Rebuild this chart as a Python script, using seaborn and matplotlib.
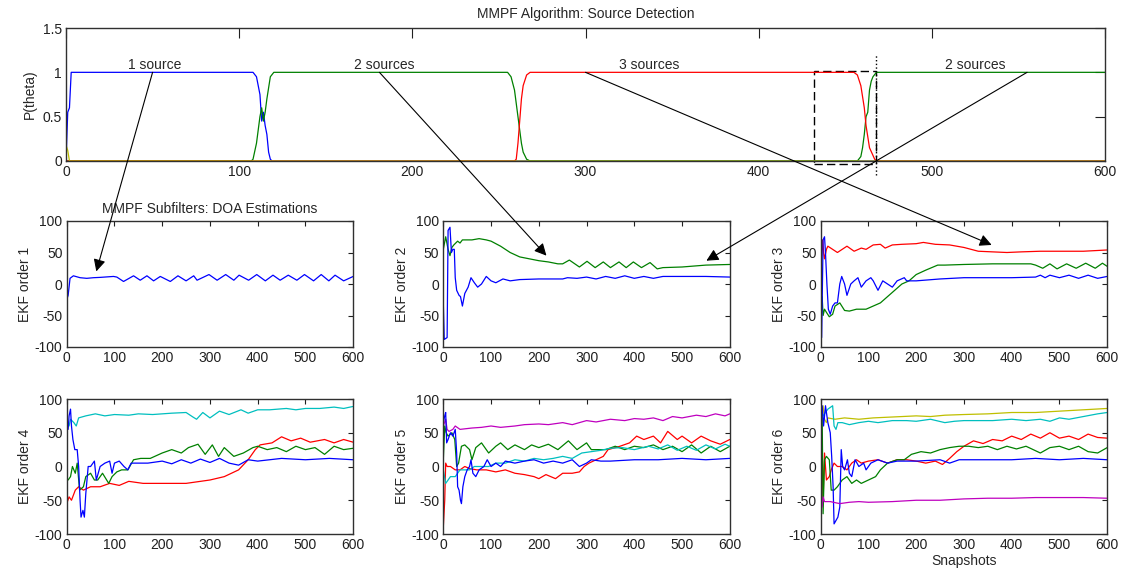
import numpy as np
import pandas as pd
import seaborn as sns
import matplotlib
matplotlib.use("Agg")
import matplotlib.pyplot as plt
from matplotlib.patches import ConnectionPatch, Rectangle

# ---- data ----
# top panel: posterior probability of each model
p_one_x = [0, 1, 2, 3, 4, 108, 110, 112, 113, 114, 115, 116, 117, 118, 119, 600]
p_one_y = [0, 0.55, 0.6, 1, 1, 1, 0.95, 0.75, 0.45, 0.55, 0.4, 0.3, 0.1, 0.02, 0, 0]
p_two_x = [0, 107, 108, 110, 111, 112, 113, 114, 115, 116, 118, 120, 255, 257, 259, 261,
           262, 263, 264, 266, 268, 457, 459, 460, 461, 462, 463, 464, 465, 466, 468, 600]
p_two_y = [0, 0, 0.02, 0.2, 0.35, 0.5, 0.6, 0.45, 0.55, 0.7, 0.95, 1, 1, 0.95, 0.8, 0.5,
           0.35, 0.2, 0.1, 0.02, 0, 0, 0.05, 0.15, 0.3, 0.5, 0.55, 0.8, 0.9, 0.95, 1, 1]
p_three_x = [0, 259, 260, 261, 262, 263, 264, 266, 268, 455, 457, 459, 461, 462, 464, 467, 468, 600]
p_three_y = [0, 0, 0.02, 0.2, 0.45, 0.7, 0.85, 0.97, 1, 1, 0.97, 0.85, 0.6, 0.4, 0.15, 0.02, 0, 0]
p_zero_x = [0, 1, 2, 600]
p_zero_y = [0.18, 0.12, 0, 0]

# EKF order 1
e1_blue_x = [0, 3, 7, 14, 28, 42, 56, 70, 98, 105, 119, 140, 154, 168, 182, 196, 217, 233,
             250, 266, 273, 298, 315, 333, 350, 361, 381, 398, 416, 432, 447, 464, 482, 498,
             517, 533, 549, 562, 580, 600]
e1_blue_y = [-25, -18, 9, 13, 10, 9, 10, 10.5, 12, 11, 4, 13, 6, 13, 5, 12, 4, 13, 5, 13, 6,
             15, 6, 15, 6, 14, 6, 15, 5, 14, 6, 14, 6, 15, 5, 15, 5, 14, 5, 12]

# EKF order 2
e2_blue_x = [0, 2, 8, 10, 14, 17, 20, 23, 25, 28, 33, 36, 40, 45, 52, 58, 65, 72, 80, 90, 100,
             110, 125, 140, 160, 200, 250, 260, 280, 300, 320, 340, 360, 380, 400, 420, 440,
             460, 500, 550, 600]
e2_blue_y = [-30, -88, -85, 85, 90, 50, 55, 55, 10, -10, -18, -20, -35, -15, -5, 10, 2, -5, 0,
             12, 5, 2, 8, 5, 7, 8, 8, 10, 9, 11, 8, 12, 9, 13, 9, 12, 9, 12, 12, 12, 11]
e2_green_x = [0, 5, 10, 14, 18, 22, 30, 35, 40, 60, 75, 90, 100, 120, 140, 160, 180, 200, 220,
              240, 250, 264, 285, 301, 318, 335, 350, 368, 383, 398, 415, 433, 448, 460, 500,
              550, 600]
e2_green_y = [55, 75, 55, 45, 58, 62, 68, 65, 70, 70, 72, 70, 68, 60, 50, 43, 40, 37, 35, 32,
              32, 38, 27, 36, 26, 35, 26, 35, 26, 35, 26, 34, 24, 26, 27, 30, 31]

# EKF order 3
e3_red_x = [0, 2, 4, 6, 8, 12, 15, 25, 35, 45, 55, 70, 85, 95, 110, 125, 135, 150, 170, 200,
            215, 240, 270, 300, 330, 360, 390, 420, 460, 500, 550, 600]
e3_red_y = [60, 45, 70, 50, 40, 55, 60, 55, 50, 55, 60, 52, 57, 55, 62, 63, 57, 62, 63, 64,
            66, 63, 62, 58, 52, 51, 50, 51, 52, 52, 52, 54]
e3_green_x = [0, 3, 5, 8, 12, 18, 25, 30, 40, 50, 60, 75, 95, 110, 125, 140, 155, 170, 185,
              200, 220, 245, 260, 300, 360, 440, 450, 465, 480, 495, 515, 535, 555, 575, 590, 600]
e3_green_y = [-25, -20, -50, -40, -45, -52, -48, -35, -30, -42, -43, -40, -40, -35, -30, -20,
              -10, 0, 5, 15, 22, 30, 30, 31, 32, 32, 30, 25, 32, 24, 32, 25, 33, 25, 33, 28]
e3_blue_x = [0, 2, 5, 8, 10, 13, 16, 20, 25, 30, 35, 40, 44, 50, 55, 63, 70, 78, 85, 95, 105,
             110, 120, 130, 140, 150, 160, 175, 180, 200, 250, 300, 400, 450, 460, 470, 480,
             500, 520, 540, 560, 580, 600]
e3_blue_y = [40, -85, 70, 75, 50, 0, -40, -48, -35, -30, -30, 0, 12, 0, -18, 0, 5, 10, -5, 5,
             10, 5, -10, 5, 0, -5, 5, 10, 5, 5, 8, 10, 10, 11, 14, 10, 14, 10, 14, 9, 14, 9, 12]

# EKF order 4
e4_cyan_x = [0, 5, 8, 15, 20, 25, 40, 60, 80, 100, 130, 150, 180, 220, 250, 265, 272, 285,
             300, 320, 340, 365, 380, 400, 425, 460, 480, 500, 530, 560, 580, 600]
e4_cyan_y = [70, 60, 70, 65, 60, 72, 75, 78, 75, 77, 76, 78, 77, 79, 80, 73, 70, 80, 72, 82,
             77, 84, 79, 84, 84, 86, 84, 86, 86, 88, 86, 89]
e4_blue_x = [0, 3, 5, 8, 10, 13, 17, 22, 25, 28, 30, 34, 37, 40, 45, 50, 55, 58, 62, 70, 80,
             90, 95, 100, 110, 120, 128, 135, 150, 170, 200, 220, 240, 260, 280, 300, 320,
             340, 360, 380, 400, 450, 500, 550, 600]
e4_blue_y = [65, 55, 75, 85, 60, 40, 25, 25, 0, -50, -75, -65, -75, -40, 0, 0, 5, 8, -20, 0,
             5, 8, -10, 5, 8, 0, -5, 5, 5, 5, 8, 4, 10, 5, 11, 6, 12, 5, 2, 10, 8, 12, 10, 12, 10]
e4_green_x = [0, 1, 3, 8, 12, 18, 22, 27, 35, 40, 50, 58, 65, 75, 88, 95, 105, 115, 128, 140,
              155, 175, 200, 220, 240, 255, 275, 290, 305, 318, 330, 350, 370, 390, 400, 420,
              440, 460, 480, 500, 520, 540, 560, 580, 600]
e4_green_y = [20, -20, -20, -15, 0, -10, 5, -35, -30, -15, -10, -20, -20, -10, -25, -15, -8,
              -5, -5, 10, 12, 12, 20, 25, 20, 28, 33, 18, 32, 15, 28, 15, 20, 28, 30, 25, 28,
              22, 30, 25, 28, 18, 30, 25, 27]
e4_red_x = [0, 5, 10, 18, 25, 35, 50, 70, 90, 110, 130, 160, 200, 250, 280, 300, 330, 345,
            360, 380, 395, 405, 430, 450, 470, 490, 510, 540, 560, 580, 600]
e4_red_y = [-55, -45, -50, -35, -30, -35, -30, -30, -25, -28, -22, -25, -25, -25, -22, -20,
            -15, -10, -5, 10, 25, 32, 35, 44, 38, 42, 36, 40, 35, 40, 36]

# EKF order 5
e5_magenta_x = [0, 5, 8, 12, 20, 25, 35, 60, 80, 100, 120, 150, 170, 200, 220, 250, 270, 300,
                320, 350, 380, 400, 420, 440, 460, 480, 500, 530, 550, 570, 590, 600]
e5_magenta_y = [60, 70, 55, 52, 55, 60, 55, 57, 58, 60, 58, 60, 62, 63, 62, 65, 62, 68, 66,
                70, 68, 71, 70, 72, 68, 74, 72, 76, 74, 78, 75, 78]
e5_red_x = [0, 3, 5, 8, 15, 25, 35, 45, 55, 70, 90, 110, 130, 150, 170, 190, 200, 215, 235,
            250, 270, 285, 295, 305, 320, 335, 345, 370, 390, 405, 420, 440, 455, 470, 490,
            500, 520, 540, 560, 580, 600]
e5_red_y = [-90, -50, 5, 0, 0, -5, -5, 0, -3, -5, -5, -8, -5, -10, -12, -15, -18, -12, -18,
            -10, -10, -8, 0, 5, 10, 15, 25, 30, 35, 45, 40, 45, 35, 52, 40, 45, 35, 45, 38, 33, 40]
e5_green_x = [0, 3, 6, 10, 18, 24, 28, 32, 38, 45, 55, 60, 68, 80, 95, 110, 120, 135, 150,
              170, 185, 200, 220, 240, 262, 280, 300, 310, 340, 360, 380, 400, 420, 440, 460,
              480, 500, 520, 540, 560, 580, 600]
e5_green_y = [10, 60, 50, 45, 50, 40, 0, 5, 30, 32, 25, 10, 28, 35, 20, 30, 35, 25, 32, 25,
              32, 28, 33, 25, 38, 25, 35, 25, 25, 30, 25, 30, 28, 32, 25, 30, 22, 32, 20, 30, 22, 30]
e5_cyan_x = [0, 5, 10, 15, 25, 35, 45, 55, 65, 80, 95, 110, 130, 150, 170, 190, 210, 230,
             250, 270, 290, 310, 330, 350, 375, 400, 430, 450, 470, 490, 510, 530, 550, 570,
             590, 600]
e5_cyan_y = [-5, -25, -20, -15, -15, -5, -5, -5, 0, 0, 0, 5, 5, 10, 8, 12, 10, 12, 15, 12, 20,
             22, 24, 27, 28, 25, 30, 26, 32, 24, 30, 24, 32, 26, 33, 30]
e5_blue_x = [0, 3, 5, 7, 10, 15, 20, 25, 28, 30, 33, 36, 38, 41, 45, 50, 55, 58, 62, 68, 75,
             85, 92, 100, 110, 120, 130, 150, 170, 190, 210, 230, 250, 270, 285, 300, 310,
             330, 350, 400, 450, 500, 550, 600]
e5_blue_y = [65, 75, 80, 35, 40, 50, 45, 55, 20, -30, -35, -50, -55, -30, -15, -5, 0, 10, -10,
             -15, -5, 0, 10, 0, 5, 0, 8, 5, 8, 10, 5, 8, 5, 10, 0, 5, 10, 8, 8, 10, 10, 12, 10, 12]

# EKF order 6
e6_yellow_x = [0, 5, 8, 12, 15, 30, 50, 80, 110, 140, 170, 200, 230, 260, 300, 350, 400, 450,
               500, 550, 600]
e6_yellow_y = [80, 90, 70, 65, 72, 70, 72, 70, 72, 73, 74, 75, 74, 76, 77, 78, 80, 80, 82, 84, 86]
e6_cyan_x = [0, 5, 10, 15, 25, 28, 32, 36, 45, 60, 80, 100, 120, 150, 180, 200, 230, 260,
             280, 300, 330, 360, 400, 430, 460, 480, 500, 520, 550, 580, 600]
e6_cyan_y = [85, 75, 80, 85, 90, 60, 55, 65, 65, 62, 65, 67, 65, 68, 68, 67, 70, 65, 67, 68,
             68, 68, 70, 68, 70, 67, 72, 70, 74, 78, 80]
e6_red_x = [0, 3, 5, 8, 12, 18, 22, 28, 35, 45, 55, 65, 75, 85, 100, 120, 140, 160, 180, 200,
            220, 240, 255, 270, 285, 300, 320, 340, 360, 380, 400, 420, 440, 460, 480, 500,
            520, 540, 560, 580, 600]
e6_red_y = [-55, 30, -50, 20, -20, -15, -5, 5, 0, 0, -5, 5, 10, 5, 8, 10, 5, 10, 10, 8, 5, 8,
            3, 12, 22, 30, 38, 34, 40, 38, 45, 40, 48, 42, 50, 42, 45, 40, 48, 43, 42]
e6_green_x = [0, 3, 5, 8, 12, 18, 22, 28, 35, 45, 55, 65, 75, 85, 100, 115, 125, 140, 160,
              175, 190, 210, 230, 250, 270, 290, 310, 330, 350, 370, 390, 410, 430, 460, 480,
              500, 520, 540, 560, 580, 600]
e6_green_y = [-55, 80, -70, 10, 15, 10, -35, -35, -30, -20, -15, -25, -20, -25, -20, -15, -5,
              5, 10, 10, 18, 22, 20, 25, 28, 30, 30, 28, 30, 25, 30, 26, 30, 20, 28, 30, 25,
              30, 22, 20, 28]
e6_blue_x = [0, 3, 6, 10, 15, 20, 23, 26, 28, 32, 36, 40, 43, 46, 50, 56, 60, 65, 72, 80, 90,
             95, 105, 120, 140, 160, 200, 250, 270, 290, 320, 400, 450, 500, 550, 600]
e6_blue_y = [70, 90, 60, 90, 65, 50, 15, -30, -85, -80, -75, -60, 25, 0, -5, 10, -10, -15, 10,
             0, 5, -5, 5, 10, 5, 8, 8, 10, 5, 10, 10, 10, 12, 10, 12, 10]
e6_magenta_x = [0, 3, 5, 8, 20, 40, 60, 80, 100, 150, 200, 250, 300, 350, 400, 450, 500, 550, 600]
e6_magenta_y = [-50, -60, -45, -52, -52, -55, -53, -52, -53, -52, -50, -50, -48, -47, -47,
                -46, -46, -46, -47]

# ---- colours (old MATLAB line order) ----
BLUE, GREEN, RED = (0, 0, 1), (0, 0.5, 0), (1, 0, 0)
CYAN, MAGENTA, YELLOW = (0, 0.75, 0.75), (0.75, 0, 0.75), (0.75, 0.75, 0)

sns.set_style("white")
plt.rcParams["font.family"] = ["Liberation Sans", "DejaVu Sans"]
plt.rcParams["font.size"] = 10
plt.rcParams["axes.unicode_minus"] = False
plt.rcParams["xtick.direction"] = "in"
plt.rcParams["ytick.direction"] = "in"
plt.rcParams["axes.edgecolor"] = "#303030"
plt.rcParams["axes.linewidth"] = 1.0

W, H = 1122, 571
fig = plt.figure(figsize=(W / 100, H / 100), dpi=100)


def box(left, top, right, bottom):
    return [left / W, (H - bottom) / H, (right - left) / W, (bottom - top) / H]


def draw(ax, xs, ys, color):
    sns.lineplot(x=xs, y=ys, ax=ax, color=color, lw=0.9, estimator=None, sort=False)


def style(ax, ylim, yticks, ticklen):
    ax.set_xlim(0, 600)
    ax.set_ylim(*ylim)
    ax.set_xticks(range(0, 601, 100))
    ax.set_yticks(yticks)
    ax.tick_params(top=True, right=True, length=ticklen, width=0.8, colors="#202020",
                   labelsize=10, pad=3)
    for s in ax.spines.values():
        s.set_visible(True)


# top panel
ax_top = fig.add_axes(box(66, 28, 1105, 161))
draw(ax_top, p_one_x, p_one_y, BLUE)
draw(ax_top, p_two_x, p_two_y, GREEN)
draw(ax_top, p_three_x, p_three_y, RED)
draw(ax_top, p_zero_x, p_zero_y, YELLOW)
style(ax_top, (0, 1.5), [0, 0.5, 1, 1.5], 7)
ax_top.set_yticklabels(["0", "0.5", "1", "1.5"])
ax_top.set_ylabel("P(theta)", labelpad=4)
ax_top.set_title("MMPF Algorithm: Source Detection", fontsize=10, pad=7)

# zoom marker on the last model switch
ax_top.add_patch(Rectangle((432, -0.03), 36, 1.05, fill=False, ls=(0, (6, 3)), lw=1,
                           color="black", clip_on=False))
ax_top.plot([468, 468], [-0.16, 1.19], ls=":", lw=1, color="black", clip_on=False)

lefts = [66.7, 443.3, 820.7]
rows = [(221, 347), (399, 534)]
panels = []
for r, (t, b) in enumerate(rows):
    for c, lft in enumerate(lefts):
        panels.append(fig.add_axes(box(lft, t, lft + 286.5, b)))

series = [
    [(e1_blue_x, e1_blue_y, BLUE)],
    [(e2_green_x, e2_green_y, GREEN), (e2_blue_x, e2_blue_y, BLUE)],
    [(e3_red_x, e3_red_y, RED), (e3_green_x, e3_green_y, GREEN), (e3_blue_x, e3_blue_y, BLUE)],
    [(e4_cyan_x, e4_cyan_y, CYAN), (e4_red_x, e4_red_y, RED), (e4_green_x, e4_green_y, GREEN),
     (e4_blue_x, e4_blue_y, BLUE)],
    [(e5_magenta_x, e5_magenta_y, MAGENTA), (e5_red_x, e5_red_y, RED),
     (e5_green_x, e5_green_y, GREEN), (e5_cyan_x, e5_cyan_y, CYAN), (e5_blue_x, e5_blue_y, BLUE)],
    [(e6_yellow_x, e6_yellow_y, YELLOW), (e6_cyan_x, e6_cyan_y, CYAN), (e6_red_x, e6_red_y, RED),
     (e6_green_x, e6_green_y, GREEN), (e6_blue_x, e6_blue_y, BLUE),
     (e6_magenta_x, e6_magenta_y, MAGENTA)],
]

for i, (ax, lines) in enumerate(zip(panels, series)):
    for xs, ys, col in lines:
        draw(ax, xs, ys, col)
    style(ax, (-100, 100), [-100, -50, 0, 50, 100], 3.5)
    ax.set_ylabel(f"EKF order {i + 1}", labelpad=2)

panels[0].set_title("MMPF Subfilters: DOA Estimations", fontsize=10, pad=6)
panels[5].set_xlabel("Snapshots", labelpad=1)

# labels and arrows from the detection panel to the subfilter panels
labels = ["1 source", "2 sources", "3 sources", "2 sources"]
label_x = [51, 184, 337, 525]
arrow_from_x = [50, 181, 300, 555]
arrow_to = [(0, 62, 20), (1, 216, 45), (2, 358, 62), (1, 551, 37)]

for txt, lx in zip(labels, label_x):
    ax_top.text(lx, 1.0, txt, ha="center", va="bottom", fontsize=10)

for fx, (pi, tx, ty) in zip(arrow_from_x, arrow_to):
    con = ConnectionPatch(xyA=(fx, 1.0), coordsA=ax_top.transData,
                          xyB=(tx, ty), coordsB=panels[pi].transData,
                          arrowstyle="-|>", mutation_scale=18, lw=0.8, color="black")
    fig.add_artist(con)

fig.savefig("out.png", dpi=100)
